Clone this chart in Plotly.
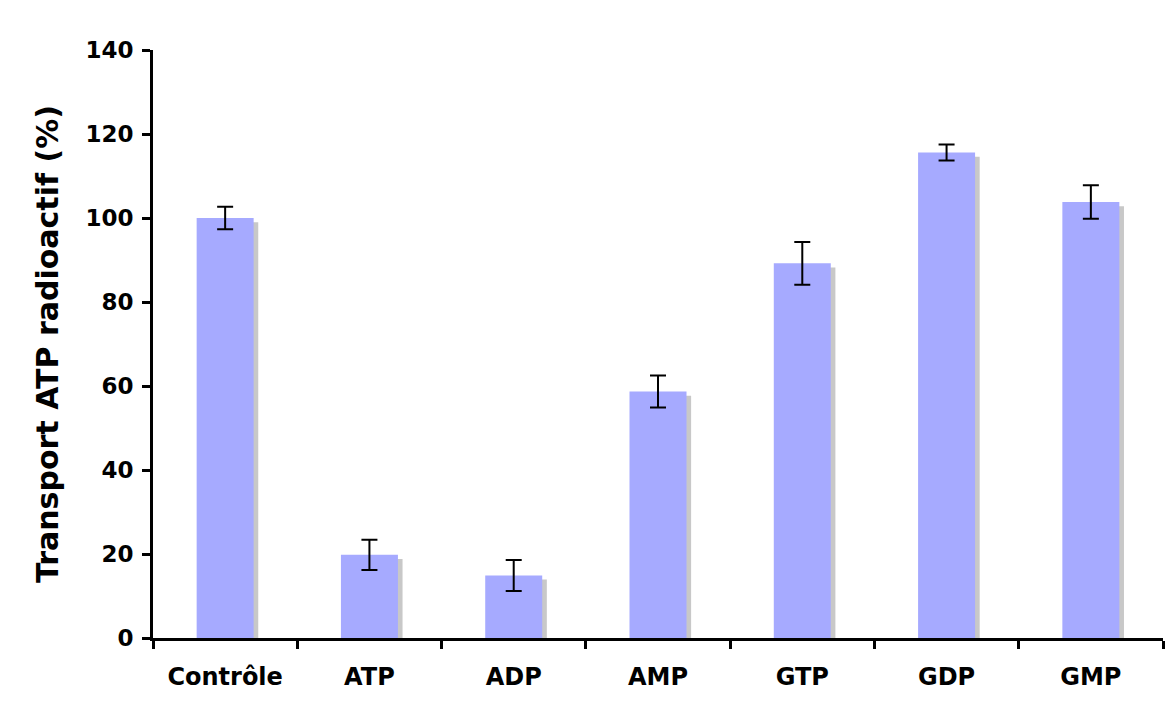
import plotly.graph_objects as go

# --------------------------------------------------
# DATA
# --------------------------------------------------

categories = ["Contrôle", "ATP", "ADP", "AMP", "GTP", "GDP", "GMP"]
transport = [100, 19.8, 14.9, 58.7, 89.2, 115.6, 103.8]
errors = [2.7, 3.6, 3.7, 3.8, 5.1, 1.9, 4.0]

y_ticks = [0, 20, 40, 60, 80, 100, 120, 140]

bar_width = 0.395
shadow_shift = 0.032

fig = go.Figure()

# gray drop shadow behind each bar
fig.add_trace(
    go.Bar(
        x=categories,
        y=transport,
        base=-1.0,
        width=bar_width,
        offset=-bar_width / 2 + shadow_shift,
        marker=dict(color="#c8c8c8", line=dict(width=0)),
        hoverinfo="skip",
        showlegend=False
    )
)

fig.add_trace(
    go.Bar(
        x=categories,
        y=transport,
        width=bar_width,
        offset=-bar_width / 2,
        marker=dict(color="#a6aaff", line=dict(width=0)),
        error_y=dict(
            type="data",
            array=errors,
            color="black",
            thickness=2,
            width=8
        ),
        showlegend=False
    )
)

# page has an 8px body margin, so the figure is a bit smaller than the window
fig.update_layout(
    width=1160,
    height=690,
    barmode="overlay",
    plot_bgcolor="white",
    paper_bgcolor="white",
    margin=dict(l=145, r=5, t=42, b=60),
    font=dict(family="DejaVu Sans", color="black")
)

fig.update_xaxes(
    type="category",
    showline=True,
    linecolor="black",
    linewidth=3,
    ticks="outside",
    tickson="boundaries",
    ticklen=8,
    tickwidth=3,
    tickcolor="black",
    showgrid=False,
    tickfont=dict(size=24, family="DejaVu Sans", weight="bold"),
    ticklabelstandoff=15,
    range=[-0.5, 6.5]
)

fig.update_yaxes(
    range=[0, 140],
    tickvals=y_ticks,
    showline=True,
    linecolor="black",
    linewidth=3,
    ticks="outside",
    ticklen=8,
    tickwidth=3,
    tickcolor="black",
    showgrid=False,
    zeroline=False,
    tickfont=dict(size=23, family="DejaVu Sans", weight="bold"),
    ticklabelstandoff=4,
    title=dict(
        text="Transport ATP radioactif (%)",
        font=dict(size=30, family="DejaVu Sans", weight="bold"),
        standoff=18
    )
)

fig.write_html("out.html")
